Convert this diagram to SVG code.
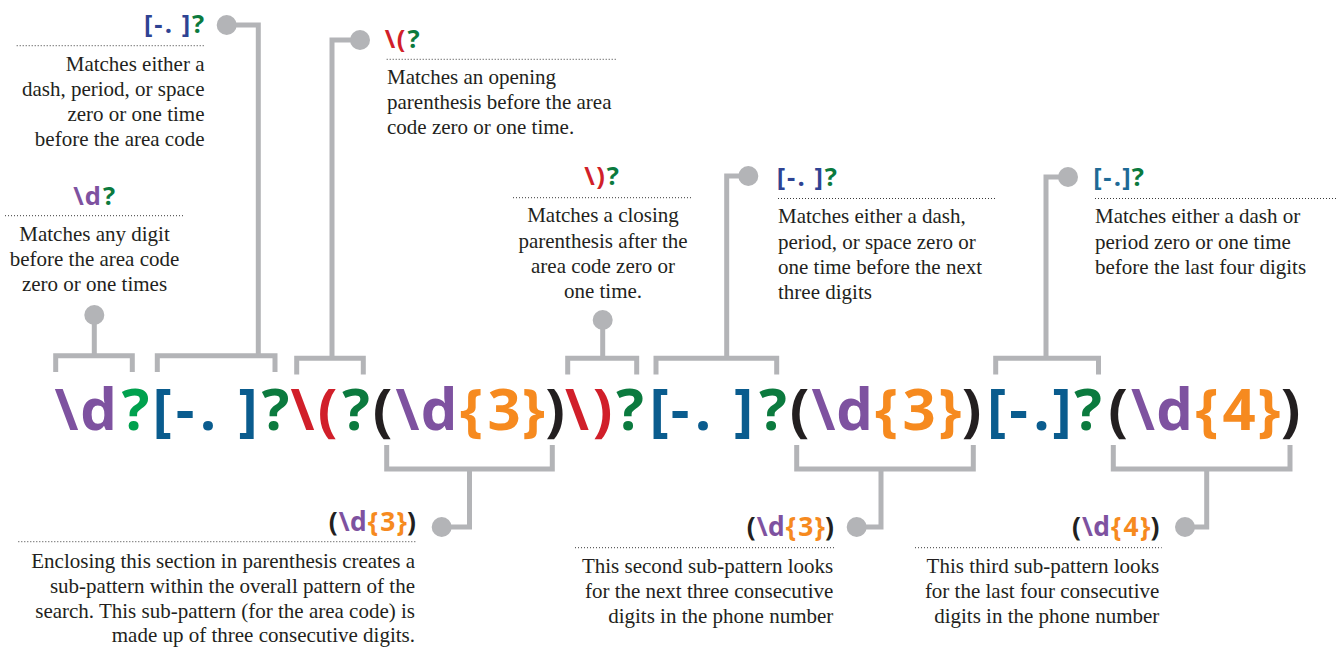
<svg xmlns="http://www.w3.org/2000/svg" width="1342" height="649" viewBox="0 0 1342 649">
<style>
.rx{font-family:"Open Sans","Liberation Sans",sans-serif;font-weight:700;font-size:58px;text-anchor:middle}
.lb{font-family:"Open Sans","Liberation Sans",sans-serif;font-weight:700;font-size:25.5px;text-anchor:middle}
.lg2{font-family:"Open Sans","Liberation Sans",sans-serif;font-weight:700;font-size:26.4px;text-anchor:middle}
.t{font-family:"Liberation Serif","Times New Roman",serif;font-size:21px;fill:#231f20}
.p{fill:#7e52a0}.lg{fill:#00a14e}.g{fill:#0b7a3e}.b{fill:#0a5c8e}.r{fill:#d11f2a}.k{fill:#231f20}.o{fill:#f68a1f}.ib{fill:#2e4393}.tb{fill:#1e6a96}
.con{fill:none;stroke:#b3b4b7;stroke-width:5}
.dot{fill:#b3b4b7}
.dl{stroke:#3a3a3a;stroke-width:1;stroke-dasharray:1 2;fill:none}
</style>

<g id="connectors">
<path class="con" d="M94.3 315V356M55.7 372V355.7H132.3V372"/>
<path class="con" d="M226.7 25H258.3V355.7M157.3 372V355.7H275V372"/>
<path class="con" d="M360 40H332V358.3M296.7 374.5V358.3H363.3V374.5"/>
<path class="con" d="M602.7 320V358.3M567.7 374.5V358.3H636.7V374.5"/>
<path class="con" d="M748.3 176H726.7V358.3M656 374.5V358.3H776.7V374.5"/>
<path class="con" d="M1068 177H1046V358.3M995.7 374.5V358.3H1098.5V374.5"/>
<path class="con" d="M386.7 445V469H552.3V445M469.5 469V527H441.7"/>
<path class="con" d="M796.7 445V469H973.3V445M881 469V527H856.7"/>
<path class="con" d="M1113.3 445V469H1290V445M1206.7 469V527H1185"/>
<circle class="dot" cx="94.3" cy="315" r="10"/>
<circle class="dot" cx="226.7" cy="25" r="10"/>
<circle class="dot" cx="360" cy="40" r="10"/>
<circle class="dot" cx="602.7" cy="320" r="10"/>
<circle class="dot" cx="748.3" cy="176" r="10"/>
<circle class="dot" cx="1068" cy="177" r="10"/>
<circle class="dot" cx="441.7" cy="527" r="10"/>
<circle class="dot" cx="856.7" cy="527" r="10"/>
<circle class="dot" cx="1185" cy="527" r="10"/>
</g>

<g id="regex">
<text class="rx" y="430"><tspan x="66.5" class="p">\</tspan><tspan x="98.5" class="p">d</tspan><tspan x="135.5" class="lg">?</tspan><tspan x="162" class="b">[</tspan><tspan x="185" class="b">-</tspan><tspan x="208" class="b">.</tspan><tspan x="248" class="b">]</tspan><tspan x="275.5" class="g">?</tspan><tspan x="302.5" class="r">\</tspan><tspan x="327.5" class="r">(</tspan><tspan x="356" class="g">?</tspan><tspan x="382.5" class="k">(</tspan><tspan x="407.5" class="p">\</tspan><tspan x="439" class="p">d</tspan><tspan x="471.5" class="o">{</tspan><tspan x="504" class="o">3</tspan><tspan x="533.5" class="o">}</tspan><tspan x="555" class="k">)</tspan><tspan x="577" class="r">\</tspan><tspan x="602.5" class="r">)</tspan><tspan x="630" class="g">?</tspan><tspan x="659" class="b">[</tspan><tspan x="680" class="b">-</tspan><tspan x="703" class="b">.</tspan><tspan x="743.5" class="b">]</tspan><tspan x="773" class="g">?</tspan><tspan x="799.5" class="k">(</tspan><tspan x="823.5" class="p">\</tspan><tspan x="854.5" class="p">d</tspan><tspan x="886.5" class="o">{</tspan><tspan x="919" class="o">3</tspan><tspan x="950" class="o">}</tspan><tspan x="971.5" class="k">)</tspan><tspan x="996.5" class="b">[</tspan><tspan x="1018.5" class="b">-</tspan><tspan x="1041.5" class="b">.</tspan><tspan x="1062" class="b">]</tspan><tspan x="1088" class="g">?</tspan><tspan x="1118" class="k">(</tspan><tspan x="1143" class="p">\</tspan><tspan x="1174.5" class="p">d</tspan><tspan x="1207" class="o">{</tspan><tspan x="1239" class="o">4</tspan><tspan x="1269" class="o">}</tspan><tspan x="1290.5" class="k">)</tspan></text>
</g>

<g id="callout-sep1">
<text class="lb" y="33"><tspan x="148.3" class="ib">[</tspan><tspan x="158.4" class="ib">-</tspan><tspan x="168.5" class="ib">.</tspan><tspan x="186.1" class="ib">]</tspan><tspan x="198.2" class="g">?</tspan></text>
<path class="dl" d="M16.7 45.7H205"/>
<text class="t" text-anchor="end"><tspan x="204.5" y="71">Matches either a</tspan><tspan x="204.5" y="96">dash, period, or space</tspan><tspan x="204.5" y="121">zero or one time</tspan><tspan x="204.5" y="146">before the area code</tspan></text>
</g>

<g id="callout-openparen">
<text class="lb" y="48"><tspan x="390" class="r">\</tspan><tspan x="401" class="r">(</tspan><tspan x="413.5" class="g">?</tspan></text>
<path class="dl" d="M386.7 59.3H617"/>
<text class="t"><tspan x="387" y="84">Matches an opening</tspan><tspan x="387" y="109.3">parenthesis before the area</tspan><tspan x="387" y="134.3">code zero or one time.</tspan></text>
</g>

<g id="callout-digit">
<text class="lb" y="205"><tspan x="78.6" class="p">\</tspan><tspan x="92.7" class="p">d</tspan><tspan x="109" class="g">?</tspan></text>
<path class="dl" d="M5 215.7H185"/>
<text class="t" text-anchor="middle"><tspan x="94.5" y="241">Matches any digit</tspan><tspan x="94.5" y="266">before the area code</tspan><tspan x="94.5" y="291">zero or one times</tspan></text>
</g>

<g id="callout-closeparen">
<text class="lb" y="185"><tspan x="589.5" class="r">\</tspan><tspan x="600.7" class="r">)</tspan><tspan x="612.8" class="g">?</tspan></text>
<path class="dl" d="M513 197.7H693"/>
<text class="t" text-anchor="middle"><tspan x="603" y="222">Matches a closing</tspan><tspan x="603" y="247.5">parenthesis after the</tspan><tspan x="603" y="272.5">area code zero or</tspan><tspan x="603" y="297.5">one time.</tspan></text>
</g>

<g id="callout-sep2">
<text class="lb" y="186"><tspan x="780.9" class="ib">[</tspan><tspan x="791" class="ib">-</tspan><tspan x="801.1" class="ib">.</tspan><tspan x="818.7" class="ib">]</tspan><tspan x="830.8" class="g">?</tspan></text>
<path class="dl" d="M778 198.5H995"/>
<text class="t"><tspan x="778" y="223">Matches either a dash,</tspan><tspan x="778" y="248.5">period, or space zero or</tspan><tspan x="778" y="273.5">one time before the next</tspan><tspan x="778" y="298.5">three digits</tspan></text>
</g>

<g id="callout-sep3">
<text class="lb" y="186"><tspan x="1097.6" class="tb">[</tspan><tspan x="1107.3" class="tb">-</tspan><tspan x="1117.4" class="tb">.</tspan><tspan x="1126.4" class="tb">]</tspan><tspan x="1137.9" class="g">?</tspan></text>
<path class="dl" d="M1095 198.5H1336"/>
<text class="t"><tspan x="1095" y="223">Matches either a dash or</tspan><tspan x="1095" y="248.5">period zero or one time</tspan><tspan x="1095" y="273.5">before the last four digits</tspan></text>
</g>

<g id="callout-group1">
<text class="lg2" y="531"><tspan x="333.3" class="k">(</tspan><tspan x="344.2" class="p">\</tspan><tspan x="358.3" class="p">d</tspan><tspan x="372.9" class="o">{</tspan><tspan x="387.7" class="o">3</tspan><tspan x="401.8" class="o">}</tspan><tspan x="411.6" class="k">)</tspan></text>
<path class="dl" d="M18.3 541.7H416.7"/>
<text class="t" text-anchor="end"><tspan x="415" y="568">Enclosing this section in parenthesis creates a</tspan><tspan x="415" y="593">sub-pattern within the overall pattern of the</tspan><tspan x="415" y="618">search. This sub-pattern (for the area code) is</tspan><tspan x="415" y="642">made up of three consecutive digits.</tspan></text>
</g>

<g id="callout-group2">
<text class="lg2" y="536"><tspan x="751.3" class="k">(</tspan><tspan x="762.2" class="p">\</tspan><tspan x="776.3" class="p">d</tspan><tspan x="790.9" class="o">{</tspan><tspan x="805.7" class="o">3</tspan><tspan x="819.8" class="o">}</tspan><tspan x="829.6" class="k">)</tspan></text>
<path class="dl" d="M575 547.7H835"/>
<text class="t" text-anchor="end"><tspan x="833.3" y="572.7">This second sub-pattern looks</tspan><tspan x="833.3" y="597.5">for the next three consecutive</tspan><tspan x="833.3" y="622.5">digits in the phone number</tspan></text>
</g>

<g id="callout-group3">
<text class="lg2" y="536"><tspan x="1076.6" class="k">(</tspan><tspan x="1087.5" class="p">\</tspan><tspan x="1101.6" class="p">d</tspan><tspan x="1116.2" class="o">{</tspan><tspan x="1131" class="o">4</tspan><tspan x="1145.1" class="o">}</tspan><tspan x="1154.9" class="k">)</tspan></text>
<path class="dl" d="M915 547.7H1161.7"/>
<text class="t" text-anchor="end"><tspan x="1159.3" y="572.7">This third sub-pattern looks</tspan><tspan x="1159.3" y="597.5">for the last four consecutive</tspan><tspan x="1159.3" y="622.5">digits in the phone number</tspan></text>
</g>
</svg>
